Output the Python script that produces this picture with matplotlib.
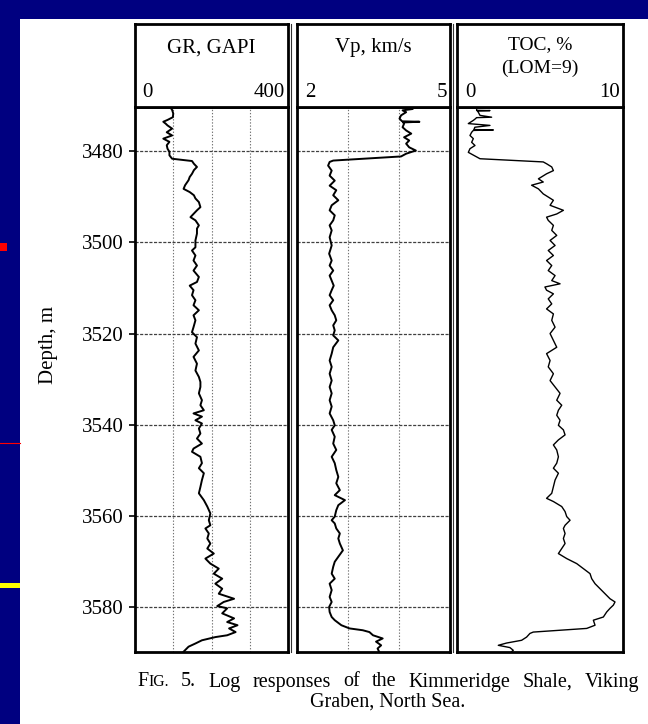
import matplotlib.pyplot as plt
from matplotlib.patches import Rectangle
from matplotlib.lines import Line2D

W, H = 648, 724

depth_ticks = [3480, 3500, 3520, 3540, 3560, 3580]
depth_top, depth_bottom = 3470.3, 3589.7

# gamma ray, GAPI
gr_depth = [3470.4, 3471.0, 3471.8, 3472.6, 3473.2, 3473.6, 3474.0, 3474.4, 3475.1, 3475.5,
            3475.9, 3476.6, 3477.3, 3478.0, 3478.75, 3479.5, 3480.2, 3480.95, 3481.7, 3482.2,
            3482.8, 3483.5, 3484.2, 3485.0, 3485.7, 3486.4, 3487.5, 3488.3, 3489.0, 3489.7,
            3490.4, 3491.2, 3492.3, 3493.0, 3493.7, 3494.5, 3495.2, 3496.3, 3497.0, 3498.1,
            3499.6, 3501.1, 3501.8, 3502.9, 3504.0, 3505.1, 3506.2, 3507.6, 3508.7, 3509.5,
            3510.5, 3511.6, 3512.7, 3513.8, 3514.9, 3516.0, 3517.1, 3518.6, 3519.7, 3520.8,
            3522.2, 3523.7, 3525.1, 3526.6, 3528.1, 3529.5, 3530.6, 3531.7, 3533.1, 3534.6,
            3535.7, 3536.8, 3537.5, 3538.2, 3539.0, 3539.7, 3540.8, 3541.9, 3543.0, 3544.1,
            3545.2, 3545.9, 3547.0, 3548.4, 3549.5, 3550.6, 3552.1, 3553.6, 3555.0, 3556.5,
            3557.9, 3559.4, 3560.9, 3562.0, 3562.7, 3563.8, 3564.9, 3566.0, 3567.1, 3568.2,
            3569.3, 3570.4, 3571.5, 3572.6, 3573.7, 3574.8, 3575.9, 3577.0, 3578.1, 3578.8,
            3579.7, 3580.2, 3581.3, 3582.4, 3583.2, 3583.9, 3584.6, 3585.4, 3586.1, 3586.5,
            3587.2, 3587.9, 3588.6, 3589.7]
gr = [92, 97, 100, 99, 85, 74, 80, 85, 97, 90,
      83, 97, 74, 90, 83, 85, 90, 90, 97, 149,
      154, 162, 154, 149, 143, 140, 131, 127, 143, 154,
      158, 167, 171, 162, 154, 145, 158, 167, 162, 162,
      158, 158, 149, 158, 153, 162, 153, 167, 162, 143,
      153, 149, 158, 153, 167, 153, 158, 153, 149, 162,
      158, 167, 153, 162, 158, 167, 171, 171, 167, 175,
      171, 180, 153, 175, 158, 175, 167, 171, 162, 175,
      153, 149, 171, 175, 167, 180, 175, 171, 167, 180,
      189, 197, 193, 197, 184, 193, 189, 197, 189, 206,
      184, 197, 219, 206, 228, 210, 228, 219, 259, 232,
      215, 241, 228, 259, 241, 268, 246, 263, 241, 210,
      175, 158, 140, 127]

# P-wave velocity, km/s
vp_depth = [3470.4, 3470.8, 3471.1, 3471.5, 3472.2, 3472.9, 3473.5, 3473.6, 3473.75, 3474.0,
            3474.8, 3475.5, 3476.2, 3477.0, 3477.7, 3478.4, 3479.2, 3479.9, 3480.6, 3481.2,
            3482.1, 3482.4, 3483.2, 3484.3, 3485.4, 3486.5, 3487.6, 3488.6, 3489.7, 3490.8,
            3491.9, 3493.0, 3494.1, 3495.2, 3496.3, 3497.4, 3498.9, 3500.7, 3502.5, 3504.0,
            3505.1, 3506.2, 3507.3, 3508.4, 3509.5, 3510.5, 3511.6, 3512.7, 3513.8, 3514.9,
            3516.0, 3517.1, 3518.2, 3519.3, 3520.4, 3521.5, 3523.0, 3524.4, 3525.9, 3527.3,
            3528.8, 3530.3, 3531.7, 3533.1, 3534.6, 3536.0, 3537.5, 3539.0, 3540.1, 3541.1,
            3542.6, 3544.1, 3545.5, 3547.0, 3548.4, 3549.9, 3551.4, 3552.8, 3554.3, 3555.4,
            3556.5, 3557.6, 3558.7, 3560.1, 3560.9, 3561.6, 3562.7, 3563.8, 3564.9, 3566.0,
            3567.5, 3568.9, 3570.0, 3571.1, 3572.6, 3573.7, 3574.8, 3576.2, 3577.7, 3578.8,
            3579.9, 3581.0, 3582.1, 3582.8, 3583.9, 3584.6, 3585.0, 3585.4, 3586.1, 3586.8,
            3587.5, 3588.3, 3589.0, 3589.7]
vp = [4.07, 4.27, 4.07, 4.14, 4.04, 4.01, 4.06, 4.40, 4.08, 4.10,
      4.07, 4.14, 4.24, 4.10, 4.20, 4.14, 4.20, 4.33, 4.14, 4.04,
      2.71, 2.64, 2.61, 2.68, 2.64, 2.74, 2.64, 2.77, 2.71, 2.81,
      2.68, 2.64, 2.74, 2.71, 2.64, 2.68, 2.64, 2.68, 2.63, 2.68,
      2.64, 2.71, 2.64, 2.68, 2.72, 2.68, 2.64, 2.71, 2.64, 2.68,
      2.74, 2.77, 2.71, 2.74, 2.71, 2.81, 2.71, 2.68, 2.64, 2.68,
      2.64, 2.68, 2.64, 2.68, 2.64, 2.68, 2.64, 2.71, 2.74, 2.68,
      2.74, 2.71, 2.77, 2.68, 2.74, 2.77, 2.81, 2.77, 2.84, 2.74,
      2.94, 2.81, 2.77, 2.74, 2.68, 2.74, 2.77, 2.84, 2.81, 2.84,
      2.90, 2.81, 2.74, 2.71, 2.68, 2.74, 2.64, 2.68, 2.64, 2.68,
      2.63, 2.64, 2.68, 2.74, 2.87, 3.03, 3.29, 3.42, 3.49, 3.68,
      3.55, 3.65, 3.58, 3.61]

# total organic carbon, % (LOM = 9)
toc_depth = [3470.8, 3471.1, 3471.15, 3471.25, 3471.5, 3472.2, 3472.6, 3472.7, 3472.9, 3473.3,
             3474.0, 3474.4, 3474.8, 3475.3, 3475.4, 3475.5, 3475.9, 3476.6, 3477.3, 3478.1,
             3478.8, 3479.5, 3480.3, 3480.9, 3481.7, 3482.4, 3482.8, 3483.5, 3484.3, 3485.0,
             3486.1, 3486.8, 3487.5, 3488.3, 3489.4, 3490.8, 3491.9, 3493.0, 3493.8, 3494.5,
             3495.2, 3496.3, 3497.4, 3498.5, 3499.6, 3500.7, 3501.8, 3502.9, 3504.0, 3505.1,
             3506.2, 3507.3, 3508.4, 3509.1, 3509.8, 3510.5, 3511.3, 3512.4, 3513.5, 3514.6,
             3515.7, 3517.1, 3518.6, 3520.0, 3521.5, 3523.0, 3524.4, 3525.9, 3527.3, 3528.8,
             3530.3, 3531.7, 3533.1, 3534.6, 3535.7, 3536.8, 3537.9, 3539.0, 3540.1, 3541.1,
             3542.2, 3543.3, 3544.4, 3545.5, 3547.0, 3548.4, 3549.5, 3550.6, 3552.1, 3553.6,
             3555.0, 3556.1, 3556.8, 3557.9, 3559.0, 3560.1, 3560.9, 3562.0, 3562.7, 3563.8,
             3564.9, 3566.0, 3567.1, 3568.2, 3569.3, 3570.4, 3571.5, 3572.6, 3573.7, 3574.8,
             3575.9, 3577.0, 3578.1, 3578.8, 3579.5, 3580.2, 3581.0, 3582.1, 3582.8, 3583.9,
             3584.6, 3585.0, 3585.4, 3585.7, 3586.5, 3587.2, 3587.8, 3588.3, 3588.8, 3589.4,
             3589.7]
toc = [1.21, 1.21, 2.01, 1.25, 1.31, 1.41, 2.11, 1.20, 1.15, 1.01,
       0.71, 2.01, 1.10, 1.05, 2.21, 1.01, 0.91, 0.81, 1.01, 0.91,
       1.11, 0.81, 0.71, 1.01, 1.41, 5.21, 5.41, 5.72, 5.82, 5.41,
       4.92, 5.21, 4.51, 4.92, 5.21, 5.82, 5.62, 6.42, 6.02, 5.41,
       5.51, 5.82, 5.72, 6.02, 5.62, 5.92, 5.51, 5.82, 5.41, 5.72,
       5.51, 5.92, 5.72, 6.22, 5.31, 5.41, 5.82, 5.51, 5.72, 5.41,
       5.82, 5.72, 5.92, 5.62, 5.82, 6.02, 5.41, 5.62, 5.51, 5.82,
       5.62, 5.92, 6.22, 6.02, 6.32, 6.12, 6.02, 6.22, 6.12, 6.42,
       6.52, 6.12, 5.82, 6.02, 6.12, 6.02, 5.82, 6.12, 5.92, 5.82,
       5.72, 5.41, 5.82, 6.32, 6.52, 6.62, 6.82, 6.52, 6.42, 6.52,
       6.42, 6.52, 6.32, 6.12, 6.62, 7.22, 7.62, 8.02, 8.12, 8.32,
       8.62, 8.92, 9.22, 9.52, 9.42, 9.22, 9.02, 8.82, 8.22, 8.32,
       7.82, 6.20, 4.61, 4.41, 4.21, 3.91, 3.01, 2.51, 3.21, 3.41,
       3.31]

caption_1 = ["5.", "Log", "responses", "of", "the", "Kimmeridge", "Shale,", "Viking"]
caption_2 = "Graben, North Sea."

plt.rcParams['font.family'] = ['Liberation Serif', 'DejaVu Serif']

fig = plt.figure(figsize=(W / 100, H / 100), dpi=100, facecolor='#000080')


def rect(x0, y0, x1, y1):
    # pixel box (top-left origin) -> figure fraction
    return [x0 / W, 1 - y1 / H, (x1 - x0) / W, (y1 - y0) / H]


def fx(x):
    return x / W


def fy(y):
    return 1 - y / H


# slide page and its left-edge marks
fig.add_artist(Rectangle((fx(20), 0), 1 - fx(20), fy(19), transform=fig.transFigure,
                         facecolor='white', edgecolor='none', zorder=-5))
fig.add_artist(Rectangle((0, fy(251)), fx(7), 8 / H, transform=fig.transFigure,
                         facecolor='#ff0000', edgecolor='none'))
fig.add_artist(Line2D([0, fx(20)], [fy(443), fy(443)], transform=fig.transFigure,
                      color='#ff0000', lw=0.8))
fig.add_artist(Rectangle((0, fy(588)), fx(20), 5 / H, transform=fig.transFigure,
                         facecolor='#ffff00', edgecolor='none'))

track_top, track_bot, head_top = 106.7, 651.7, 24
tracks = [
    dict(x0=135, x1=288, lim=(0, 400), d=gr_depth, v=gr, vgrid=[100, 200, 300],
         hgrid=True, labels=["GR, GAPI"], ends=("0", "400"), lw=1.4, double=True),
    dict(x0=297, x1=450, lim=(2, 5), d=vp_depth, v=vp, vgrid=[3, 4],
         hgrid=True, labels=["Vp, km/s"], ends=("2", "5"), lw=1.4, double=True),
    dict(x0=456.5, x1=623, lim=(0, 10), d=toc_depth, v=toc, vgrid=[],
         hgrid=False, labels=["TOC, %", "(LOM=9)"], ends=("0", "10"), lw=1.0, double=False),
]

for i, t in enumerate(tracks):
    ax = fig.add_axes(rect(t['x0'], track_top, t['x1'], track_bot))
    ax.plot(t['v'], t['d'], color='black', lw=t['lw'], solid_joinstyle='round')
    ax.set_xlim(*t['lim'])
    ax.set_ylim(depth_bottom, depth_top)
    for g in t['vgrid']:
        ax.axvline(g, color='0.45', lw=0.8, ls=(0, (1.2, 1.6)), zorder=0)
    if t['hgrid']:
        for d in depth_ticks:
            ax.axhline(d, color='0.25', lw=0.9, ls=(0, (2.5, 1.2)), zorder=0)
    ax.set_xticks([])
    if i == 0:
        ax.set_yticks(depth_ticks)
        ax.set_yticklabels([str(d) for d in depth_ticks], fontsize=15)
        ax.tick_params(axis='y', direction='out', length=4, width=1.2, pad=4)
    else:
        ax.set_yticks([])
    for s in ax.spines.values():
        s.set_linewidth(2.0)

    hd = fig.add_axes(rect(t['x0'], head_top, t['x1'], track_top))
    hd.set_xlim(0, 1)
    hd.set_ylim(0, 1)
    hd.set_xticks([])
    hd.set_yticks([])
    for s in hd.spines.values():
        s.set_linewidth(2.0)
    if len(t['labels']) == 1:
        hd.text(0.5, 0.71, t['labels'][0], ha='center', va='center', fontsize=15)
    else:
        hd.text(0.5, 0.75, t['labels'][0], ha='center', va='center', fontsize=14)
        hd.text(0.5, 0.46, t['labels'][1], ha='center', va='center', fontsize=14)
    hd.text(0.05, 0.17, t['ends'][0], ha='left', va='center', fontsize=15)
    hd.text(0.98, 0.17, t['ends'][1], ha='right', va='center', fontsize=15)

    # thin second rule along the right edge of the panel
    if t['double']:
        fig.add_artist(Line2D([fx(t['x1'] + 3)] * 2, [fy(track_bot), fy(head_top)],
                              transform=fig.transFigure, color='0.2', lw=0.8))

fig.text(fx(48), fy(345), "Depth, m", rotation=90, ha='center', va='center', fontsize=15)

# caption, first line justified between the track edges
cap_x0, cap_x1, cap_y1, cap_y2 = 137, 639, 682, 702
cap_size = 14.5
renderer = fig.canvas.get_renderer()
f_big = fig.text(0, fy(cap_y1), "F", fontsize=cap_size, va='center')
f_small = fig.text(0, fy(cap_y1), "IG.", fontsize=cap_size * 0.78, va='center')
words = [fig.text(0, fy(cap_y1), w, fontsize=cap_size, va='center') for w in caption_1]
wb = f_big.get_window_extent(renderer).width
ws = f_small.get_window_extent(renderer).width
widths = [t.get_window_extent(renderer).width for t in words]
gap = (cap_x1 - cap_x0 - wb - ws - sum(widths)) / len(words)
x = cap_x0
f_big.set_x(fx(x))
f_small.set_x(fx(x + wb))
x += wb + ws + gap
for t, w in zip(words, widths):
    t.set_x(fx(x))
    x += w + gap
fig.text(fx(388), fy(cap_y2), caption_2, fontsize=cap_size, ha='center', va='center')

fig.savefig("out.png", dpi=100, facecolor=fig.get_facecolor())
